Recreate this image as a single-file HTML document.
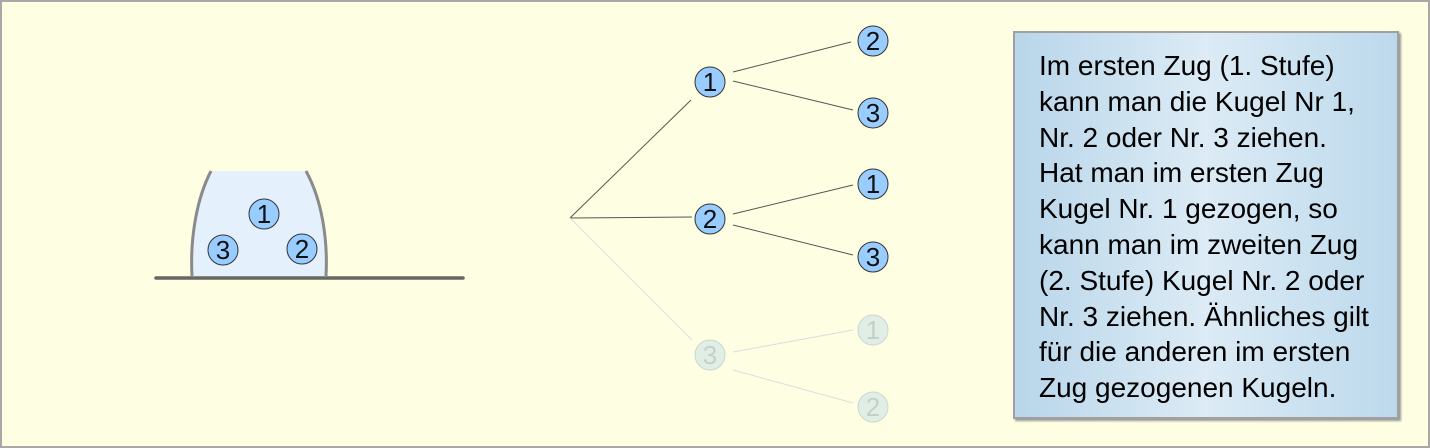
<!DOCTYPE html>
<html><head><meta charset="utf-8"><style>
body{margin:0;width:1430px;height:448px;overflow:hidden;background:#fff;font-family:"Liberation Sans",sans-serif}
.frame{position:absolute;left:0;top:0;width:1426px;height:444px;border:2px solid #a8a8a8;background:#fefee2}
.box{position:absolute;left:1013px;top:31px;width:382px;height:384px;border:2px solid #a0a0a0;background:linear-gradient(90deg,#b9d6ea,#dcebf5 50%,#bcd9ec);box-shadow:2px 2px 2px #999}
.txt{position:absolute;left:24px;top:15px;font-size:28px;line-height:35.8px;color:#000;white-space:nowrap}
</style></head><body>
<div class="frame"></div>
<svg width="1430" height="448" style="position:absolute;left:0;top:0" font-family="Liberation Sans, sans-serif">
<path d="M211,171 C196,200 190,240 192,276 L326,276 C328,240 322,200 306,171 Z" fill="#e4f0fc"/>
<path d="M211,171 C196,200 190,240 192,276 M306,171 C322,200 328,240 326,276" fill="none" stroke="#8a8a8a" stroke-width="3"/>
<line x1="156" y1="278" x2="463" y2="278" stroke="#666" stroke-width="3.5" stroke-linecap="round"/>
<g stroke="#555" stroke-width="1" fill="none">
<line x1="570" y1="218" x2="691" y2="100"/>
<line x1="570" y1="218" x2="692" y2="217"/>
<line x1="733" y1="72" x2="851" y2="42"/>
<line x1="733" y1="81" x2="853" y2="110"/>
<line x1="733" y1="214" x2="853" y2="185"/>
<line x1="733" y1="225" x2="853" y2="255"/>
</g>
<g stroke="#ddd" stroke-width="1" fill="none">
<line x1="570" y1="218" x2="692" y2="340"/>
<line x1="733" y1="352" x2="853" y2="330"/>
<line x1="733" y1="370" x2="853" y2="403"/>
</g>
<g fill="#99ccff" stroke="#333" stroke-width="1">
<circle cx="264" cy="214" r="15"/><circle cx="223" cy="250" r="15"/><circle cx="302" cy="249" r="15"/>
<circle cx="710" cy="82" r="15"/><circle cx="710" cy="219" r="15"/>
<circle cx="873" cy="41" r="15"/><circle cx="873" cy="113" r="15"/><circle cx="873" cy="184" r="15"/><circle cx="873" cy="257" r="15"/>
</g>
<g fill="#e0eee6" stroke="#ccd6d0" stroke-width="1">
<circle cx="710" cy="355" r="15"/><circle cx="873" cy="330" r="15"/><circle cx="873" cy="407" r="15"/>
</g>
<g font-size="26" text-anchor="middle" fill="#111">
<text x="264" y="223">1</text><text x="223" y="259">3</text><text x="302" y="258">2</text>
<text x="710" y="91">1</text><text x="710" y="228">2</text>
<text x="873" y="50">2</text><text x="873" y="122">3</text><text x="873" y="193">1</text><text x="873" y="266">3</text>
</g>
<g font-size="26" text-anchor="middle" fill="#c4d0c8">
<text x="710" y="364">3</text><text x="873" y="339">1</text><text x="873" y="416">2</text>
</g>
</svg>
<div class="box"><div class="txt">Im ersten Zug (1. Stufe)<br>kann man die Kugel Nr 1,<br>Nr. 2 oder Nr. 3 ziehen.<br>Hat man im ersten Zug<br>Kugel Nr. 1 gezogen, so<br>kann man im zweiten Zug<br>(2. Stufe) Kugel Nr. 2 oder<br>Nr. 3 ziehen. Ähnliches gilt<br>für die anderen im ersten<br>Zug gezogenen Kugeln.</div></div>
</body></html>
